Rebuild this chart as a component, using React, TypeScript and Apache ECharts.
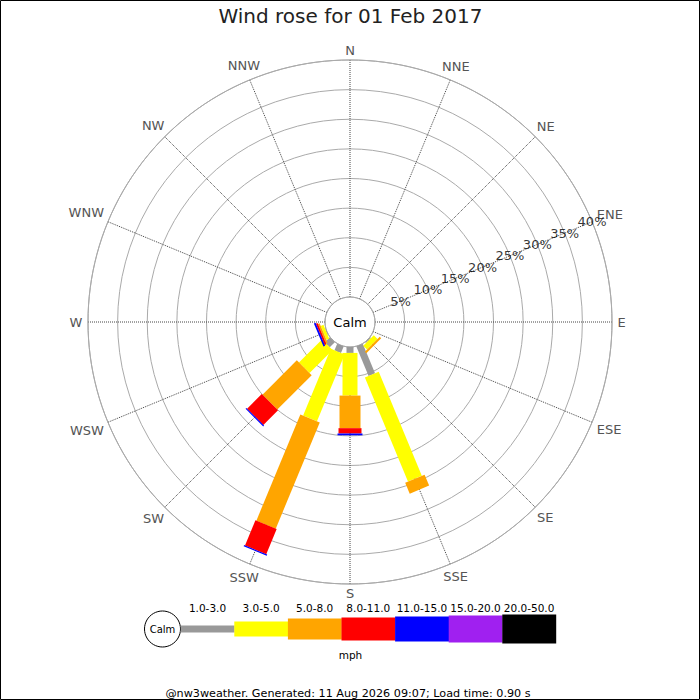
import React, { useEffect, useRef } from "react";
import * as echarts from "echarts";

const directions = ["N", "NNE", "NE", "ENE", "E", "ESE", "SE", "SSE", "S", "SSW", "SW", "WSW", "W", "WNW", "NW", "NNW"];
const speedClasses = ["1.0-3.0", "3.0-5.0", "5.0-8.0", "8.0-11.0", "11.0-15.0", "15.0-20.0", "20.0-50.0"];

// percentage of time per direction for each speed class (mph)
const speed1to3 = [0, 0, 0, 0, 0, 0, 0.2, 5.4, 1.0, 1.2, 1.2, 0.1, 0, 0, 0, 0];
const speed3to5 = [0, 0, 0, 0, 0, 0, 0.9, 19.0, 7.2, 12.2, 5.5, 0.5, 0, 0, 0, 0];
const speed5to8 = [0, 0, 0, 0, 0, 0, 0.35, 2.0, 5.5, 19.4, 8.2, 0.3, 0, 0, 0, 0];
const speed8to11 = [0, 0, 0, 0, 0, 0, 0, 0, 0.9, 4.6, 3.5, 0.3, 0, 0, 0, 0];
const speed11to15 = [0, 0, 0, 0, 0, 0, 0, 0, 0.3, 0.2, 0.2, 0.3, 0, 0, 0, 0];
const speed15to20 = [0, 0, 0, 0, 0, 0, 0, 0, 0, 0, 0, 0, 0, 0, 0, 0];
const speed20to50 = [0, 0, 0, 0, 0, 0, 0, 0, 0, 0, 0, 0, 0, 0, 0, 0];

const radialTicks = [5, 10, 15, 20, 25, 30, 35, 40];
const radialTickLabels = ["5%", "10%", "15%", "20%", "25%", "30%", "35%", "40%"];
const radialLabelDirection = "ENE";

const calmLabel = "Calm";
const unitLabel = "mph";
const titleText = "Wind rose for 01 Feb 2017";
const footerText = "@nw3weather. Generated: 11 Aug 2026 09:07; Load time: 0.90 s";

// styles
const classColors = ["#999999", "#ffff00", "#ffa500", "#ff0000", "#0000ff", "#a020f0", "#000000"];
const classWidths = [7, 15, 21, 23, 25, 27, 29];
const FONT = "DejaVu Sans";

export default function App() {
  const ref = useRef<HTMLDivElement>(null);
  useEffect(() => {
    if (!ref.current) return;
    const chart = echarts.init(ref.current, undefined, { renderer: "svg" });

    const step = 360 / directions.length;
    const RMAX = 40;

    const classSeries = [speed1to3, speed3to5, speed5to8, speed8to11, speed11to15, speed15to20, speed20to50];
    const cum = directions.map(() => 0);
    const segments: number[][] = [];
    classSeries.forEach((vals, k) => {
      vals.forEach((v, d) => {
        if (v > 0) {
          segments.push([d * step, cum[d], cum[d] + v, k]);
          cum[d] += v;
        }
      });
    });

    const ctx = document.createElement("canvas").getContext("2d")!;
    ctx.font = `13px "${FONT}"`;
    const dirWidths = directions.map((n) => ctx.measureText(n).width);

    const radialAngle = directions.indexOf(radialLabelDirection) * step;

    // legend graphics
    const legX0 = 180.7;
    const legW = 53.6;
    const legY = 629;
    const legend: any[] = [];
    legend.push({
      type: "circle",
      shape: { cx: 162.5, cy: legY, r: 18 },
      style: { fill: "#fff", stroke: "#000", lineWidth: 1 },
    });
    legend.push({
      type: "text",
      x: 162.5,
      y: legY,
      style: { text: calmLabel, fontSize: 10, fontFamily: FONT, fill: "#000", align: "center", verticalAlign: "middle" },
    });
    speedClasses.forEach((label, k) => {
      const h = classWidths[k];
      legend.push({
        type: "rect",
        shape: { x: legX0 + k * legW, y: legY - h / 2, width: legW + 0.3, height: h },
        style: { fill: classColors[k] },
      });
      legend.push({
        type: "text",
        x: legX0 + k * legW + legW / 2,
        y: 607.5,
        style: { text: label, fontSize: 10.5, fontFamily: FONT, fill: "#000", align: "center", verticalAlign: "middle" },
      });
    });
    legend.push({
      type: "text",
      x: 350.5,
      y: 654.5,
      style: { text: unitLabel, fontSize: 10.5, fontFamily: FONT, fill: "#000", align: "center", verticalAlign: "middle" },
    });

    chart.setOption({
      animation: false,
      backgroundColor: "#fff",
      textStyle: { fontFamily: FONT },
      polar: { center: [350, 322], radius: [25, 262] },
      angleAxis: {
        type: "value",
        min: 0,
        max: 360,
        interval: step,
        startAngle: 90,
        clockwise: true,
        axisLine: { show: true, lineStyle: { color: "#aaaaaa", width: 1 } },
        axisTick: { show: false },
        axisLabel: { show: false },
        splitLine: { show: true, lineStyle: { color: "#444444", type: "dotted", width: 1 } },
      },
      radiusAxis: {
        type: "value",
        min: 0,
        max: RMAX,
        interval: 5,
        axisLine: { show: false },
        axisTick: { show: false },
        axisLabel: { show: false },
        splitLine: { show: true, lineStyle: { color: "#aaaaaa", width: 1 } },
      },
      series: [
        {
          type: "custom",
          coordinateSystem: "polar",
          encode: { angle: 0, radius: [1, 2] },
          data: segments,
          renderItem: (params: any, api: any) => {
            const a = api.value(0);
            const s = api.value(1);
            const e = api.value(2);
            const k = api.value(3);
            const p0 = api.coord([s, a]);
            const p1 = api.coord([e, a]);
            const c0 = api.coord([0, a]);
            const c1 = api.coord([RMAX, a]);
            const dx = c1[0] - c0[0];
            const dy = c1[1] - c0[1];
            const len = Math.hypot(dx, dy) || 1;
            const nx = -dy / len;
            const ny = dx / len;
            const hw = classWidths[k] / 2;
            return {
              type: "polygon",
              shape: {
                points: [
                  [p0[0] + nx * hw, p0[1] + ny * hw],
                  [p1[0] + nx * hw, p1[1] + ny * hw],
                  [p1[0] - nx * hw, p1[1] - ny * hw],
                  [p0[0] - nx * hw, p0[1] - ny * hw],
                ],
              },
              style: { fill: classColors[k], stroke: null },
            };
          },
          z: 3,
        },
        {
          type: "custom",
          coordinateSystem: "polar",
          encode: { angle: 0, radius: 1 },
          data: directions.map((_, i) => [i * step, RMAX]),
          silent: true,
          renderItem: (params: any, api: any) => {
            const a = api.value(0);
            const c0 = api.coord([0, a]);
            const c1 = api.coord([RMAX, a]);
            const dx = c1[0] - c0[0];
            const dy = c1[1] - c0[1];
            const len = Math.hypot(dx, dy) || 1;
            const ux = dx / len;
            const uy = dy / len;
            const w = dirWidths[params.dataIndex];
            const off = 5.6 + Math.abs(ux) * w / 2 + Math.abs(uy) * 3.9;
            return {
              type: "text",
              x: c1[0] + ux * off,
              y: c1[1] + uy * off,
              style: {
                text: directions[params.dataIndex],
                fill: "#555555",
                fontSize: 13,
                fontFamily: FONT,
                align: "center",
                verticalAlign: "middle",
              },
            };
          },
          z: 4,
        },
        {
          type: "scatter",
          coordinateSystem: "polar",
          symbolSize: 0,
          data: radialTicks.map((v, i) => ({ value: [v, radialAngle], name: radialTickLabels[i] })),
          label: {
            show: true,
            position: "inside",
            formatter: (p: any) => p.name,
            color: "#000",
            fontSize: 13,
            fontFamily: FONT,
          },
          silent: true,
          z: 5,
        },
      ],
      graphic: [
        {
          type: "text",
          x: 350.5,
          y: 16,
          style: { text: titleText, fontSize: 20, fontFamily: FONT, fill: "#222", align: "center", verticalAlign: "middle" },
        },
        {
          type: "text",
          x: 350,
          y: 322,
          style: { text: calmLabel, fontSize: 13, fontFamily: FONT, fill: "#000", align: "center", verticalAlign: "middle" },
        },
        ...legend,
        {
          type: "text",
          x: 348,
          y: 693,
          style: { text: footerText, fontSize: 11.2, fontFamily: FONT, fill: "#000", align: "center", verticalAlign: "middle" },
        },
        {
          type: "rect",
          shape: { x: 0.5, y: 0.5, width: 699, height: 699 },
          style: { fill: "none", stroke: "#000", lineWidth: 1 },
          z: 10,
        },
      ],
    });
    return () => chart.dispose();
  }, []);
  return <div ref={ref} style={{ position: "fixed", left: 0, top: 0, width: 700, height: 700 }} />;
}
